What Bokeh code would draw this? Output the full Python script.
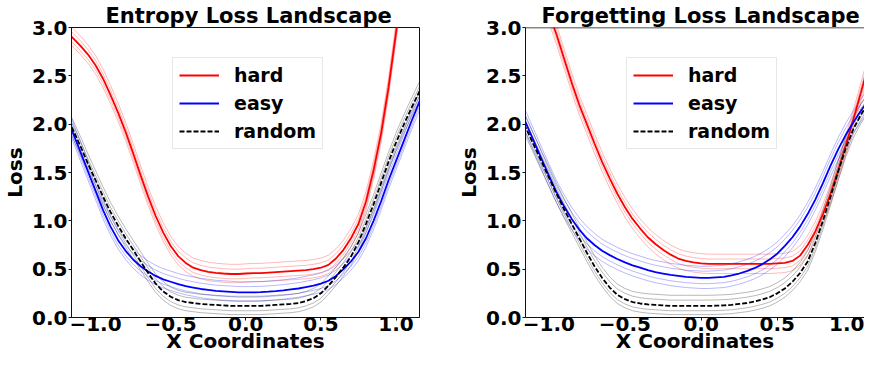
from bokeh.plotting import figure
from bokeh.models import Span, Legend, LegendItem, FixedTicker, Range1d
from bokeh.layouts import row
from bokeh.embed import file_html
from bokeh.resources import INLINE

# ---------------- data ----------------
x_coords = [-1.2, -1.15, -1.1, -1.05, -1.0, -0.95, -0.9, -0.85, -0.8, -0.75,
            -0.7, -0.65, -0.6, -0.55, -0.5, -0.45, -0.4, -0.35, -0.3, -0.25,
            -0.2, -0.15, -0.1, -0.05, 0.0, 0.05, 0.1, 0.15, 0.2, 0.25,
            0.3, 0.35, 0.4, 0.45, 0.5, 0.55, 0.6, 0.65, 0.7, 0.75,
            0.8, 0.85, 0.9, 0.95, 1.0, 1.05, 1.1, 1.15, 1.2]

entropy_hard = [2.96, 2.89, 2.81, 2.72, 2.61, 2.47, 2.30, 2.12, 1.92, 1.70,
                1.47, 1.25, 1.05, 0.88, 0.74, 0.635, 0.565, 0.515, 0.49, 0.472,
                0.462, 0.455, 0.45, 0.45, 0.455, 0.46, 0.46, 0.465, 0.47, 0.475,
                0.48, 0.485, 0.49, 0.50, 0.515, 0.545, 0.61, 0.70, 0.82, 0.97,
                1.20, 1.52, 1.90, 2.38, 2.95, 3.55, 4.2, 4.8, 5.4]
entropy_easy = [2.12, 1.91, 1.71, 1.51, 1.31, 1.11, 0.94, 0.80, 0.69, 0.60,
                0.53, 0.475, 0.43, 0.395, 0.37, 0.345, 0.325, 0.31, 0.295, 0.285,
                0.275, 0.27, 0.265, 0.26, 0.26, 0.26, 0.262, 0.267, 0.273, 0.28,
                0.29, 0.30, 0.315, 0.33, 0.35, 0.38, 0.43, 0.50, 0.58, 0.68,
                0.82, 1.00, 1.20, 1.42, 1.62, 1.82, 2.02, 2.21, 2.40]
entropy_random = [2.10, 1.94, 1.77, 1.59, 1.42, 1.25, 1.09, 0.95, 0.82, 0.70,
                  0.58, 0.46, 0.35, 0.27, 0.215, 0.18, 0.16, 0.15, 0.14, 0.135,
                  0.13, 0.125, 0.12, 0.12, 0.12, 0.12, 0.12, 0.125, 0.13, 0.135,
                  0.14, 0.15, 0.17, 0.20, 0.25, 0.33, 0.42, 0.52, 0.63, 0.78,
                  0.97, 1.17, 1.39, 1.61, 1.81, 1.99, 2.16, 2.32, 2.47]

forget_hard = [4.1, 3.82, 3.57, 3.35, 3.15, 2.93, 2.68, 2.43, 2.20, 2.00,
               1.80, 1.61, 1.44, 1.28, 1.14, 1.02, 0.92, 0.83, 0.76, 0.70,
               0.65, 0.61, 0.585, 0.57, 0.56, 0.555, 0.555, 0.555, 0.555, 0.555,
               0.555, 0.555, 0.555, 0.555, 0.56, 0.565, 0.585, 0.64, 0.75, 0.89,
               1.07, 1.28, 1.52, 1.78, 2.05, 2.33, 2.62, 2.92, 3.22]
forget_easy = [2.19, 2.01, 1.83, 1.65, 1.47, 1.30, 1.15, 1.02, 0.91, 0.82,
               0.75, 0.69, 0.645, 0.605, 0.57, 0.54, 0.515, 0.49, 0.47, 0.455,
               0.44, 0.43, 0.42, 0.415, 0.41, 0.41, 0.415, 0.42, 0.435, 0.455,
               0.48, 0.51, 0.55, 0.60, 0.66, 0.74, 0.83, 0.94, 1.07, 1.22,
               1.39, 1.57, 1.74, 1.89, 2.02, 2.14, 2.25, 2.35, 2.45]
forget_random = [2.13, 1.96, 1.79, 1.62, 1.45, 1.28, 1.12, 0.97, 0.82, 0.67,
                 0.53, 0.41, 0.31, 0.235, 0.19, 0.16, 0.145, 0.135, 0.13, 0.125,
                 0.12, 0.12, 0.12, 0.12, 0.12, 0.12, 0.122, 0.125, 0.13, 0.14,
                 0.15, 0.165, 0.185, 0.21, 0.25, 0.30, 0.37, 0.46, 0.58, 0.77,
                 1.00, 1.25, 1.51, 1.75, 1.95, 2.10, 2.22, 2.33, 2.43]

# spread of the faint individual runs around each mean curve
entropy_hard_runs = [0.10, 0.05, -0.05, -0.09]
entropy_easy_runs = [0.11, 0.06, -0.05, -0.09]
entropy_random_runs = [0.10, 0.05, -0.05, -0.09]
forget_hard_runs = [0.10, 0.05, -0.05, -0.10]
forget_easy_runs = [0.12, 0.07, -0.06, -0.11]
forget_random_runs = [0.11, 0.06, -0.05, -0.09]

series_names = ["hard", "easy", "random"]
x_ticks = [-1.0, -0.5, 0.0, 0.5, 1.0]
x_tick_labels = ["\u22121.0", "\u22120.5", "0.0", "0.5", "1.0"]
y_ticks = [0.0, 0.5, 1.0, 1.5, 2.0, 2.5, 3.0]
y_tick_labels = ["0.0", "0.5", "1.0", "1.5", "2.0", "2.5", "3.0"]
x_label = "X Coordinates"
y_label = "Loss"

# ---------------- styling ----------------
FONT = "DejaVu Sans"
H = 355
COLORS = ["#ff0000", "#0000ff", "#000000"]
DASHES = ["solid", "solid", "5 2"]


def make_panel(title, title_offset, means, runs, xr, frame_w, left_b, right_b,
               full_outline):
    p = figure(width=left_b + frame_w + right_b, height=H,
               x_range=Range1d(*xr), y_range=Range1d(0, 3),
               output_backend="svg", toolbar_location=None,
               min_border_left=left_b, min_border_right=right_b,
               min_border_top=27, min_border_bottom=36)
    p.title.text = title
    p.title.text_font = FONT
    p.title.text_font_style = "bold"
    p.title.text_font_size = "21px"
    p.title.text_color = "black"
    p.title.text_line_height = 1.0
    p.title.align = "left"
    p.title.offset = title_offset
    p.title.standoff = 0
    p.xgrid.visible = False
    p.ygrid.visible = False
    p.background_fill_color = "white"
    p.border_fill_color = "white"
    if full_outline:
        p.outline_line_color = "#111111"
        p.outline_line_width = 1
    else:
        p.outline_line_color = None
        p.add_layout(Span(location=3.0, dimension="width",
                          line_color="#111111", line_width=1.5))

    for ax in (p.xaxis[0], p.yaxis[0]):
        ax.axis_line_color = "#111111"
        ax.major_tick_line_color = "#111111"
        ax.major_tick_out = 3
        ax.major_tick_in = 0
        ax.minor_tick_out = 0
        ax.minor_tick_in = 0
        ax.major_label_text_font = FONT
        ax.major_label_text_font_style = "bold"
        ax.major_label_text_font_size = "20px"
        ax.major_label_text_color = "black"
        ax.major_label_text_line_height = 1.0
        ax.axis_label_text_font = FONT
        ax.axis_label_text_font_style = "bold"
        ax.axis_label_text_font_size = "20px"
        ax.axis_label_text_color = "black"
        ax.axis_label_text_line_height = 1.0
    p.xaxis.major_label_standoff = -4
    p.xaxis.axis_label_standoff = -5
    p.yaxis.major_label_standoff = 1
    p.yaxis.axis_label_standoff = 2
    p.xaxis.ticker = FixedTicker(ticks=x_ticks)
    p.xaxis.major_label_overrides = dict(zip(x_ticks, x_tick_labels))
    p.yaxis.ticker = FixedTicker(ticks=y_ticks)
    p.yaxis.major_label_overrides = dict(zip(y_ticks, y_tick_labels))
    p.xaxis.axis_label = x_label
    p.yaxis.axis_label = y_label

    # faint individual runs
    for mean, offs, col in zip(means, runs, COLORS):
        for d in offs:
            p.line(x_coords, [v + d for v in mean], line_color=col,
                   line_alpha=0.28, line_width=1)
    # mean curves
    items = []
    for name, mean, col, dash in zip(series_names, means, COLORS, DASHES):
        r = p.line(x_coords, mean, line_color=col, line_width=1.8,
                   line_dash=dash)
        items.append(LegendItem(label=name, renderers=[r]))

    leg = Legend(items=items, location=(101, 168))
    leg.label_text_font = FONT
    leg.label_text_font_style = "bold"
    leg.label_text_font_size = "19px"
    leg.label_text_color = "black"
    leg.glyph_width = 40
    leg.glyph_height = 22
    leg.label_height = 22
    leg.label_standoff = 15
    leg.spacing = 6
    leg.padding = 6
    leg.margin = 0
    leg.border_line_color = "#d0d0d0"
    leg.border_line_width = 1
    leg.background_fill_alpha = 0.9
    p.add_layout(leg)
    return p


p1 = make_panel("Entropy Loss Landscape", 34,
                [entropy_hard, entropy_easy, entropy_random],
                [entropy_hard_runs, entropy_easy_runs, entropy_random_runs],
                (-1.16, 1.156), 355, 64, 35, True)
p2 = make_panel("Forgetting Loss Landscape", 16,
                [forget_hard, forget_easy, forget_random],
                [forget_hard_runs, forget_easy_runs, forget_random_runs],
                (-1.153, 1.073), 344, 66, 0, False)

layout = row(p1, p2, spacing=0)
open("out.html", "w").write(file_html(layout, INLINE))
